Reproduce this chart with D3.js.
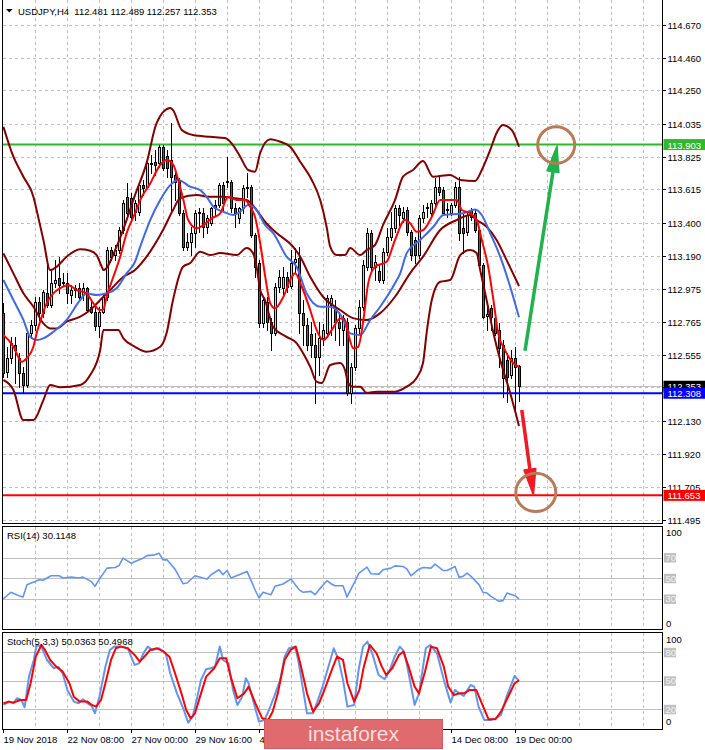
<!DOCTYPE html>
<html><head><meta charset="utf-8">
<script src="https://cdn.jsdelivr.net/npm/d3@7"></script>
<style>
html,body{margin:0;padding:0;background:#fff;}
svg{display:block;}
text{font-family:"Liberation Sans",Arial,sans-serif;}
</style></head><body>
<svg id="c" width="705" height="750"></svg>
<script>
// ---------- DATA ----------
const symbolTitle = "USDJPY,H4  112.481 112.489 112.257 112.353";
const openP = [
112.822,112.444,112.534,112.617,112.534,112.437,112.361,112.694,112.745,112.893,
112.822,112.950,112.874,113.015,113.047,113.015,113.015,112.938,112.970,112.983,
112.938,112.983,112.861,112.829,112.739,112.829,112.925,113.227,113.194,113.227,
113.355,113.566,113.560,113.470,113.470,113.643,113.631,113.785,113.791,113.785,
113.887,113.830,113.804,113.708,113.676,113.464,113.246,113.278,113.336,113.464,
113.464,113.374,113.400,113.515,113.515,113.643,113.663,113.663,113.496,113.432,
113.496,113.624,113.631,113.323,113.143,112.758,112.893,112.765,112.694,112.989,
112.983,113.053,112.995,113.150,113.175,112.823,112.745,112.688,112.617,112.540,
112.662,112.694,112.874,112.861,112.765,112.714,112.765,112.309,112.476,112.726,
112.861,113.117,113.336,113.117,113.092,113.034,113.214,113.310,113.368,113.496,
113.432,113.483,113.342,113.291,113.194,113.432,113.496,113.464,113.528,113.631,
113.611,113.483,113.464,113.515,113.631,113.368,113.342,113.483,113.464,113.355,
113.130,112.803,112.855,112.790,112.714,112.617,112.521,112.425,112.534,112.481];
const highP = [
112.886,112.604,112.668,112.668,112.566,112.476,112.714,112.778,112.925,112.925,
112.970,113.143,113.098,113.162,113.181,113.079,113.079,113.002,113.002,113.015,
113.015,112.989,112.906,112.861,112.861,112.951,113.246,113.246,113.259,113.374,
113.547,113.656,113.592,113.547,113.656,113.676,113.804,113.836,113.868,113.900,
113.900,113.868,114.041,113.727,113.688,113.483,113.336,113.374,113.483,113.496,
113.496,113.451,113.502,113.547,113.656,113.663,113.823,113.676,113.528,113.502,
113.643,113.720,113.643,113.336,113.162,112.925,112.925,112.790,113.015,113.098,
113.117,113.085,113.227,113.239,113.246,112.906,112.790,112.765,112.694,112.765,
112.752,112.938,112.938,112.906,112.829,112.810,112.790,112.502,112.745,112.906,
113.162,113.368,113.355,113.194,113.130,113.239,113.368,113.470,113.515,113.515,
113.502,113.502,113.355,113.310,113.451,113.515,113.528,113.547,113.688,113.695,
113.631,113.528,113.528,113.663,113.695,113.464,113.470,113.496,113.483,113.374,
113.143,112.861,112.874,112.810,112.758,112.649,112.566,112.585,112.604,112.489];
const lowP = [
112.412,112.412,112.502,112.374,112.348,112.310,112.348,112.662,112.714,112.778,
112.797,112.861,112.861,112.989,112.951,113.002,112.886,112.886,112.925,112.906,
112.906,112.829,112.822,112.714,112.668,112.822,112.906,113.162,113.162,113.207,
113.336,113.438,113.419,113.419,113.451,113.579,113.624,113.720,113.708,113.759,
113.740,113.695,113.464,113.547,113.451,113.227,113.227,113.194,113.246,113.342,
113.310,113.336,113.387,113.451,113.502,113.483,113.631,113.471,113.374,113.400,
113.464,113.566,113.310,113.053,112.733,112.733,112.714,112.585,112.680,112.957,
112.938,112.957,112.980,113.085,112.694,112.617,112.585,112.540,112.245,112.425,
112.617,112.668,112.681,112.649,112.617,112.617,112.297,112.245,112.457,112.694,
112.842,113.098,113.098,113.034,113.021,113.015,113.194,113.291,113.342,113.387,
113.406,113.323,113.162,113.143,113.175,113.406,113.438,113.451,113.515,113.579,
113.451,113.438,113.451,113.502,113.291,113.207,113.323,113.419,113.342,113.117,
112.790,112.714,112.714,112.681,112.476,112.284,112.252,112.406,112.200,112.257];
const closeP = [
112.437,112.534,112.630,112.585,112.437,112.361,112.694,112.745,112.893,112.822,
112.957,112.874,113.015,113.034,113.002,113.021,112.951,112.970,112.983,112.925,
112.983,112.842,112.829,112.739,112.829,112.925,113.227,113.182,113.227,113.355,
113.528,113.464,113.438,113.528,113.643,113.624,113.785,113.778,113.772,113.887,
113.752,113.752,113.695,113.663,113.464,113.246,113.278,113.336,113.464,113.470,
113.374,113.432,113.496,113.496,113.643,113.528,113.669,113.496,113.464,113.496,
113.624,113.631,113.323,113.117,112.758,112.906,112.765,112.694,112.989,113.053,
113.053,112.989,113.143,113.169,112.823,112.745,112.617,112.617,112.540,112.662,
112.714,112.919,112.919,112.765,112.726,112.790,112.309,112.476,112.726,112.861,
113.130,113.336,113.117,113.150,113.034,113.214,113.310,113.368,113.496,113.451,
113.470,113.342,113.194,113.194,113.432,113.470,113.502,113.528,113.631,113.599,
113.464,113.489,113.515,113.631,113.336,113.336,113.451,113.438,113.355,113.130,
112.797,112.816,112.797,112.694,112.598,112.406,112.412,112.534,112.476,112.353];

// Bollinger bands & moving averages as read: [bar, price]
const bbUpper = [[0.1,114.017],[2.6,113.825],[5.1,113.697],[7.6,113.568],[8.4,113.483],[10.1,113.291],[11.8,113.098],[13.4,113.119],[15.9,113.184],[19.3,113.231],[21.8,113.222],[23.4,113.194],[24.7,113.119],[25.1,113.098],[28.4,113.248],[30.9,113.419],[33.0,113.579],[35.9,113.784],[38.4,114.041],[41.8,114.137],[42.5,114.124],[44.7,113.996],[47.5,113.964],[51.8,113.953],[55.5,113.945],[57.5,113.900],[59.3,113.825],[61.3,113.740],[63.0,113.729],[64.3,113.849],[66.8,113.937],[69.3,113.921],[71.8,113.889],[74.3,113.793],[77.2,113.676],[79.3,113.547],[80.9,113.376],[81.8,113.248],[83.4,113.194],[85.5,113.194],[86.8,113.239],[89.3,113.194],[90.9,113.227],[93.0,113.259],[95.0,113.387],[98.0,113.547],[100.0,113.697],[102.5,113.740],[105.0,113.797],[107.5,113.697],[111.8,113.708],[114.3,113.676],[118.0,113.669],[119.7,113.740],[121.8,113.868],[123.4,113.977],[125.0,114.028],[127.2,113.996],[129.0,113.889]];
const bbMiddle = [[0.1,113.205],[2.6,113.077],[5.1,112.949],[7.6,112.863],[10.1,112.756],[11.8,112.724],[13.4,112.724],[15.9,112.767],[19.3,112.799],[21.8,112.842],[24.3,112.906],[26.8,112.970],[30.1,113.055],[33.0,113.098],[35.9,113.184],[40.0,113.355],[42.5,113.483],[44.3,113.560],[48.4,113.579],[51.8,113.568],[55.0,113.568],[57.5,113.560],[60.9,113.547],[63.4,113.483],[65.5,113.408],[68.4,113.336],[72.5,113.248],[74.3,113.184],[76.8,113.055],[80.0,112.927],[84.3,112.842],[87.5,112.790],[90.9,112.778],[94.3,112.822],[98.0,112.927],[101.8,113.079],[105.0,113.184],[109.3,113.355],[113.4,113.419],[116.8,113.451],[118.4,113.419],[120.9,113.376],[123.4,113.291],[125.9,113.162],[129.0,112.996]];
const bbLower = [[0.1,112.393],[2.6,112.329],[5.1,112.136],[7.6,112.136],[10.1,112.264],[11.8,112.361],[14.3,112.346],[19.3,112.361],[21.8,112.425],[24.3,112.585],[25.1,112.714],[28.8,112.714],[30.1,112.660],[33.0,112.606],[35.9,112.574],[39.3,112.606],[40.9,112.694],[42.5,112.906],[45.0,113.119],[46.8,113.143],[49.3,113.216],[51.8,113.194],[54.3,113.207],[58.4,113.194],[60.9,113.239],[62.5,113.207],[63.4,113.119],[64.3,112.970],[65.5,112.906],[67.5,112.735],[70.9,112.670],[73.4,112.630],[75.0,112.566],[76.8,112.478],[78.4,112.382],[79.7,112.373],[81.8,112.489],[84.3,112.502],[85.5,112.457],[86.3,112.373],[87.5,112.350],[89.3,112.350],[90.9,112.311],[93.4,112.318],[98.0,112.318],[100.9,112.350],[103.4,112.406],[105.0,112.502],[105.9,112.694],[107.2,112.906],[109.3,113.023],[111.8,113.034],[114.3,113.194],[116.8,113.227],[118.4,113.207],[119.3,113.098],[120.9,112.906],[122.6,112.694],[124.3,112.521],[126.8,112.309],[129.0,112.098]];
const maSlow = [[0.1,113.034],[2.6,112.906],[5.1,112.778],[6.8,112.670],[8.4,112.649],[10.1,112.660],[12.6,112.702],[15.9,112.778],[19.3,112.906],[20.9,112.949],[23.4,112.938],[25.9,112.949],[28.4,112.981],[30.9,113.077],[33.0,113.151],[34.3,113.248],[36.8,113.419],[39.3,113.547],[41.8,113.643],[43.8,113.676],[46.8,113.633],[49.3,113.611],[50.9,113.568],[52.6,113.504],[55.1,113.472],[57.6,113.451],[59.3,113.472],[61.3,113.515],[63.4,113.483],[65.5,113.387],[67.6,113.334],[70.9,113.184],[73.4,113.119],[75.9,112.949],[79.3,112.863],[81.8,112.863],[84.7,112.799],[86.8,112.692],[89.3,112.681],[91.8,112.778],[94.3,112.863],[98.0,113.013],[99.3,113.077],[100.9,113.205],[104.3,113.291],[107.6,113.376],[110.1,113.451],[115.1,113.462],[118.0,113.487],[119.7,113.451],[121.8,113.334],[124.3,113.184],[126.8,112.991],[129.0,112.795]];
const maFast = [[0.1,112.681],[2.6,112.606],[3.4,112.564],[4.7,112.510],[5.9,112.532],[7.6,112.606],[8.4,112.692],[9.7,112.799],[10.9,112.885],[12.6,112.949],[14.3,112.981],[16.3,113.002],[18.4,112.970],[20.9,112.949],[22.6,112.885],[24.3,112.842],[25.1,112.846],[25.9,112.927],[27.6,113.055],[29.3,113.184],[30.9,113.334],[33.0,113.462],[34.3,113.547],[36.8,113.654],[39.3,113.772],[40.9,113.804],[42.6,113.772],[43.8,113.676],[45.1,113.547],[46.3,113.419],[48.4,113.366],[50.1,113.387],[52.2,113.430],[54.3,113.462],[56.3,113.568],[58.4,113.547],[60.5,113.547],[61.8,113.504],[63.0,113.440],[64.3,113.270],[65.5,113.066],[66.8,112.885],[68.0,112.853],[70.1,112.927],[72.2,113.055],[73.0,113.077],[74.7,112.991],[76.8,112.842],[78.4,112.714],[80.1,112.649],[82.2,112.714],[84.3,112.788],[85.5,112.778],[86.3,112.692],[87.6,112.596],[88.8,112.606],[90.1,112.778],[91.3,113.013],[93.0,113.119],[95.9,113.151],[98.0,113.291],[100.5,113.419],[101.8,113.398],[103.4,113.344],[105.1,113.355],[107.2,113.440],[109.3,113.547],[113.4,113.547],[114.7,113.483],[116.8,113.462],[118.4,113.419],[119.7,113.291],[121.3,113.119],[122.6,112.906],[123.8,112.692],[125.5,112.585],[127.6,112.500],[129.0,112.478]];

const rsiLine = [[0,30.0],[2,36.4],[4,33.2],[5,31.9],[6,43.8],[8,46.9],[9,48.6],[10,48.0],[12,52.4],[14,52.4],[15,50.2],[17,51.1],[19,50.2],[20,51.1],[22,47.0],[23,42.2],[24,48.6],[26,59.8],[28,60.4],[29,62.3],[30,69.4],[32,64.6],[33,66.2],[35,69.4],[36,71.9],[38,72.6],[39,74.2],[40,67.8],[41,67.8],[43,58.8],[44,51.8],[45,44.7],[46,45.4],[48,52.4],[50,50.2],[51,49.2],[52,53.4],[54,58.2],[55,53.4],[56,57.5],[57,50.2],[59,53.4],[61,56.6],[62,47.9],[63,38.9],[64,30.9],[65,36.4],[67,34.1],[68,42.2],[70,44.4],[71,46.9],[72,49.2],[74,39.0],[75,36.4],[77,37.3],[78,34.1],[79,39.0],[81,47.6],[82,44.7],[83,42.8],[85,42.8],[86,31.9],[88,46.9],[89,55.0],[91,60.7],[92,54.3],[94,54.0],[95,58.2],[97,59.8],[98,62.0],[100,61.4],[101,58.8],[102,52.4],[104,58.8],[105,60.4],[107,59.8],[108,63.6],[110,57.5],[111,57.5],[113,61.4],[114,51.1],[115,51.8],[116,55.0],[117,51.8],[119,43.8],[120,36.4],[121,35.7],[122,32.5],[124,27.7],[125,28.4],[126,35.7],[128,33.2],[129,30.1]];
const stochK = [[0.1,24.6],[1.5,28.1],[2.6,26.3],[3.5,31.6],[4.6,29.8],[5.4,22.1],[6.5,54.4],[7.7,71.9],[8.4,87.7],[9.6,86.0],[11.0,71.9],[12.7,63.2],[13.8,64.9],[14.9,57.9],[16.1,40.4],[17.7,28.1],[18.9,26.3],[20.0,30.5],[21.1,26.3],[22.2,23.5],[23.0,15.8],[24.1,33.3],[25.6,64.9],[26.7,82.5],[27.8,86.0],[29.5,86.0],[31.2,84.2],[32.9,66.7],[34.0,68.4],[35.1,78.9],[36.2,86.0],[37.3,82.5],[39.0,84.2],[40.7,78.9],[41.8,57.9],[43.5,36.8],[45.2,19.3],[46.3,6.0],[47.4,12.3],[48.6,33.3],[49.5,51.0],[50.8,62.1],[51.9,63.2],[53.0,64.9],[54.2,86.0],[55.0,71.9],[56.4,68.4],[57.5,40.4],[58.6,24.6],[59.8,33.3],[60.7,52.6],[61.4,47.4],[62.6,28.1],[64.0,7.0],[65.4,8.8],[66.5,19.3],[67.8,33.3],[69.3,51.0],[70.4,75.4],[71.5,84.2],[73.0,86.0],[73.8,71.9],[74.9,43.9],[76.0,15.8],[77.5,15.8],[78.6,28.1],[79.9,43.9],[81.6,68.4],[82.7,84.2],[83.9,71.9],[85.0,51.0],[86.1,22.8],[87.8,24.6],[88.9,61.4],[90.0,86.0],[91.1,91.2],[92.3,78.9],[93.9,56.1],[95.4,51.6],[96.7,61.4],[97.9,75.4],[99.2,86.0],[100.3,80.7],[101.4,57.9],[102.9,24.6],[104.0,36.8],[105.7,84.2],[106.8,87.7],[108.5,78.9],[110.2,51.0],[111.9,27.0],[113.0,40.4],[114.1,36.8],[115.2,34.0],[116.9,45.6],[117.8,43.9],[118.9,22.8],[120.3,8.8],[121.9,8.8],[123.1,10.5],[124.5,14.0],[125.9,33.3],[127.9,55.1],[129.0,50.0]];
const stochD = [[0.1,26.3],[1.5,28.1],[2.6,27.0],[4.3,29.8],[5.8,29.8],[6.9,47.4],[8.2,75.4],[9.6,87.7],[10.5,82.5],[11.8,71.9],[13.3,64.9],[14.9,59.7],[16.6,47.4],[17.7,33.3],[19.2,28.1],[21.1,28.1],[22.2,24.6],[23.3,22.8],[24.5,29.8],[25.6,47.4],[27.0,71.9],[28.2,84.2],[29.5,86.0],[31.2,84.2],[32.9,77.2],[34.2,70.2],[35.7,77.2],[36.8,82.5],[38.5,84.2],[40.2,80.7],[41.6,75.4],[43.0,57.9],[44.6,36.8],[45.8,19.3],[46.9,10.5],[48.0,15.8],[49.5,36.8],[50.8,54.4],[52.8,63.2],[54.2,73.7],[55.8,73.7],[56.9,54.4],[58.6,31.6],[60.3,36.8],[61.4,43.9],[63.1,26.3],[64.8,10.5],[66.3,8.8],[67.4,17.5],[68.7,36.8],[70.4,71.9],[71.9,82.5],[73.2,86.0],[74.3,68.4],[76.0,36.8],[77.5,17.5],[79.0,26.3],[80.5,42.1],[82.2,61.4],[83.5,75.4],[85.0,71.9],[86.1,47.4],[87.8,28.1],[89.1,40.4],[90.2,64.9],[91.7,87.7],[93.4,78.9],[94.7,64.9],[95.8,56.1],[97.3,63.2],[99.0,77.2],[100.1,80.7],[101.4,64.9],[102.9,43.9],[104.0,36.8],[105.5,59.7],[107.0,86.0],[108.5,84.2],[110.2,64.9],[111.3,43.9],[112.7,35.1],[114.1,36.8],[115.2,36.8],[116.7,40.4],[118.3,40.4],[119.7,26.3],[121.4,9.5],[123.1,9.5],[124.5,17.5],[126.1,31.6],[127.9,47.4],[129.0,50.5]];

const priceTicks = [114.670,114.460,114.250,114.035,113.825,113.615,113.400,113.190,112.975,112.765,112.555,112.345,112.130,111.920,111.705,111.495];
const timeLabels = ["19 Nov 2018","22 Nov 08:00","27 Nov 00:00","29 Nov 16:00","4 Dec 08:00","7 Dec 00:00","11 Dec 16:00","14 Dec 08:00","19 Dec 00:00"];
const timeLabelBars = [0,16,32,48,64,80,96,112,128];
const levelPrices = [113.903, 112.308, 111.653];
const lastPrice = 112.353;
const rsiLevels = [70,50,30];
const stochLevels = [80,50,20];
const rsiTitle = "RSI(14) 30.1148";
const stochTitle = "Stoch(5,3,3) 50.0363 50.4968";
const upArrow = [[130.5,112.580],[138.5,113.894]];
const downArrow = [[129.7,112.200],[132.6,111.655]];
const targetUp = [138.3,113.900];
const targetDown = [133.2,111.672];

// ---------- DRAW ----------
const svg = d3.select('#c');
const xs = d3.scaleLinear().domain([0,129]).range([3,519]);
const y = d3.scaleLinear().domain([111.495,114.670]).range([520,25]);
const ry = d3.scaleLinear().domain([0,100]).range([630,526.5]);
const sy = d3.scaleLinear().domain([0,100]).range([728.3,633.3]);
const R = 662.5, GRID = '#c0c0c0';
const FS = '9.5px';
const WM = {x0:264.5, x1:442.5}; // watermark span

const defs = svg.append('defs');
function clip(id, x0, y0, w, h){ defs.append('clipPath').attr('id',id).append('rect').attr('x',x0).attr('y',y0).attr('width',w).attr('height',h); }
clip('cm',3,0,659.5,523.5); clip('cr',3,527,659.5,102.5); clip('cs',3,633,659.5,96.5);
clip('cx',0,730,WM.x0,20);

const gridBars = d3.range(8,161,8);
function vgrid(g, y0, y1){
  g.selectAll('line.vg').data(gridBars).join('line').attr('class','vg')
   .attr('x1',d=>Math.round(xs(d))+0.5).attr('x2',d=>Math.round(xs(d))+0.5)
   .attr('y1',y0).attr('y2',y1).attr('stroke',GRID).attr('stroke-dasharray','3,3').attr('shape-rendering','crispEdges');
}

// main panel
const gm = svg.append('g').attr('clip-path','url(#cm)');
vgrid(gm,0,523);
gm.selectAll('line.hg').data(priceTicks).join('line')
  .attr('x1',3).attr('x2',R).attr('y1',d=>Math.round(y(d))+0.5).attr('y2',d=>Math.round(y(d))+0.5)
  .attr('stroke',GRID).attr('stroke-dasharray','3,3').attr('shape-rendering','crispEdges');
gm.append('line').attr('x1',3).attr('x2',R).attr('y1',Math.round(y(lastPrice))+0.5).attr('y2',Math.round(y(lastPrice))+0.5)
  .attr('stroke','#c0c0c0').attr('shape-rendering','crispEdges');
const levelColors = ['#2db82d','#0000ff','#ff0000'];
gm.selectAll('line.lv').data(levelPrices).join('line')
  .attr('x1',3).attr('x2',R).attr('y1',d=>y(d)).attr('y2',d=>y(d))
  .attr('stroke',(d,i)=>levelColors[i]).attr('stroke-width',2);

// candles
const bars = d3.range(openP.length);
const cg = gm.append('g').attr('shape-rendering','crispEdges');
cg.selectAll('line.w').data(bars).join('line')
  .attr('x1',i=>Math.round(xs(i))+0.5).attr('x2',i=>Math.round(xs(i))+0.5)
  .attr('y1',i=>Math.round(y(highP[i]))).attr('y2',i=>Math.round(y(lowP[i]))+1)
  .attr('stroke','#000');
bars.forEach(i=>{
  const cx = Math.round(xs(i));
  const t = Math.round(y(Math.max(openP[i],closeP[i])));
  const b = Math.round(y(Math.min(openP[i],closeP[i])));
  const h = Math.max(1,b-t+1);
  cg.append('rect').attr('x',cx-1).attr('y',t).attr('width',3).attr('height',h).attr('fill','#000');
  if(h>2){
    cg.append('rect').attr('x',cx).attr('y',t+1).attr('width',1).attr('height',h-2)
      .attr('fill', closeP[i]>openP[i] ? '#adff2f' : '#ff1a1a');
  }
});

// indicator lines
const ln = d3.line().x(d=>xs(d[0])).y(d=>y(d[1])).curve(d3.curveMonotoneX);
[[bbUpper,'#800000'],[bbMiddle,'#800000'],[bbLower,'#800000'],[maSlow,'#4169e1'],[maFast,'#ff0000']].forEach(([d,c])=>{
  gm.append('path').attr('d',ln(d)).attr('fill','none').attr('stroke',c).attr('stroke-width',2);
});

// annotations
const ann = gm.append('g');
function arrow(pts, color){
  const x0=xs(pts[0][0]), y0=y(pts[0][1]), x1=xs(pts[1][0]), y1=y(pts[1][1]);
  const a=Math.atan2(y1-y0,x1-x0), L=26, hw=6;
  const bx=x1-L*Math.cos(a), by=y1-L*Math.sin(a);
  ann.append('line').attr('x1',x0).attr('y1',y0).attr('x2',bx+6*Math.cos(a)).attr('y2',by+6*Math.sin(a))
    .attr('stroke',color).attr('stroke-width',3.5);
  ann.append('path').attr('d',`M${x1},${y1}L${bx-hw*Math.sin(a)},${by+hw*Math.cos(a)}L${bx+hw*Math.sin(a)},${by-hw*Math.cos(a)}Z`)
    .attr('fill',color).attr('stroke',color).attr('stroke-width',1.5).attr('stroke-linejoin','round');
}
arrow(upArrow,'#22b14c');
arrow(downArrow,'#ed1c24');
ann.append('ellipse').attr('cx',xs(targetUp[0])).attr('cy',y(targetUp[1])).attr('rx',18.5).attr('ry',18.3)
  .attr('fill','none').attr('stroke','#b97a57').attr('stroke-width',3);
ann.append('ellipse').attr('cx',xs(targetDown[0])).attr('cy',y(targetDown[1])).attr('rx',20).attr('ry',19.2)
  .attr('fill','none').attr('stroke','#b97a57').attr('stroke-width',3);

// main frame
svg.append('path').attr('d',`M2.5,0V523.5H${R}V0`).attr('fill','none').attr('stroke','#000').attr('shape-rendering','crispEdges');

// header
svg.append('path').attr('d','M6,9L12.5,9L9.25,12.5Z').attr('fill','#000');
svg.append('text').attr('x',18).attr('y',15).attr('font-size',FS).attr('fill','#000').attr('xml:space','preserve').text(symbolTitle);

// right price axis
const ax = svg.append('g');
ax.selectAll('line.t').data(priceTicks).join('line')
  .attr('x1',R).attr('x2',666).attr('y1',d=>Math.round(y(d))+0.5).attr('y2',d=>Math.round(y(d))+0.5)
  .attr('stroke','#000').attr('shape-rendering','crispEdges');
// tick labels (the one hidden behind the current-price box is not shown)
ax.selectAll('text.t').data(priceTicks.filter(p=>Math.abs(y(p)-y(lastPrice))>8)).join('text')
  .attr('x',667.5).attr('y',d=>y(d)+4).attr('font-size',FS).attr('fill','#000').text(d=>d.toFixed(3));
function priceBox(p, fill){
  ax.append('rect').attr('x',663.5).attr('y',y(p)-5.5).attr('width',41.5).attr('height',11).attr('fill',fill);
  ax.append('text').attr('x',667.5).attr('y',y(p)+4).attr('font-size',FS).attr('fill','#fff').text(p.toFixed(3));
}
priceBox(lastPrice,'#000');
priceBox(levelPrices[0],'#2db82d');
priceBox(levelPrices[1],'#0000ff');
priceBox(levelPrices[2],'#ff0000');

// sub panels
function subPanel(clipId, top, bottom, scale, levels, series, title, titleY){
  const g = svg.append('g').attr('clip-path',`url(#${clipId})`);
  vgrid(g, top, bottom);
  g.selectAll('line.lvl').data(levels).join('line')
    .attr('x1',3).attr('x2',R).attr('y1',d=>Math.round(scale(d))+0.5).attr('y2',d=>Math.round(scale(d))+0.5)
    .attr('stroke','#c0c0c0').attr('shape-rendering','crispEdges');
  const l = d3.line().x(d=>xs(d[0])).y(d=>scale(d[1]));
  series.forEach(([d,c,w])=>g.append('path').attr('d',l(d)).attr('fill','none').attr('stroke',c).attr('stroke-width',w).attr('stroke-linejoin','round'));
  svg.append('rect').attr('x',2.5).attr('y',top).attr('width',R-2.5).attr('height',bottom-top)
    .attr('fill','none').attr('stroke','#000').attr('shape-rendering','crispEdges');
  svg.append('text').attr('x',7).attr('y',titleY).attr('font-size',FS).attr('fill','#000').text(title);
  const lg = svg.append('g');
  lg.append('text').attr('x',666).attr('y',scale(100)+9.5).attr('font-size',FS).attr('fill','#000').text('100');
  lg.append('text').attr('x',666).attr('y',scale(0)-3).attr('font-size',FS).attr('fill','#000').text('0');
  levels.forEach(v=>{
    lg.append('rect').attr('x',664).attr('y',scale(v)-4.5).attr('width',12).attr('height',9.5).attr('fill','#c0c0c0');
    lg.append('text').attr('x',665.5).attr('y',scale(v)+3.5).attr('font-size',FS).attr('fill','#f2f2f2').text(v);
  });
}
subPanel('cr',526.5,629.5,ry,rsiLevels,[[rsiLine,'#6495ed',1.6]],rsiTitle,538.5);
subPanel('cs',632.5,729.5,sy,stochLevels,[[stochK,'#6495ed',2],[stochD,'#ff0000',2]],stochTitle,645);

// time axis
svg.selectAll('line.xt').data(timeLabelBars).join('line')
  .attr('x1',d=>Math.round(xs(d))+0.5).attr('x2',d=>Math.round(xs(d))+0.5).attr('y1',729.5).attr('y2',733)
  .attr('stroke','#000').attr('shape-rendering','crispEdges');
// labels fully hidden by the watermark are not drawn; the partly hidden one is clipped
const lblIdx = d3.range(timeLabels.length).filter(i=>{
  const sx = xs(timeLabelBars[i]); return !(sx > WM.x0 && sx < WM.x1);
});
lblIdx.forEach(i=>{
  const sx = xs(timeLabelBars[i]);
  const t = svg.append('text').attr('x',sx+0.5).attr('y',742.5).attr('font-size',FS).attr('fill','#000');
  if(sx < WM.x0 && sx + 60 > WM.x0){ t.attr('clip-path','url(#cx)').text(timeLabels[i].split(' ')[0]); }
  else t.text(timeLabels[i]);
});

// watermark
svg.append('rect').attr('x',WM.x0).attr('y',719.5).attr('width',WM.x1-WM.x0).attr('height',29).attr('fill','#e06b6f').attr('stroke','#d35a5e');
svg.append('text').attr('x',(WM.x0+WM.x1)/2).attr('y',740.5).attr('text-anchor','middle').attr('font-size','21px')
  .attr('fill','#f8dede').text('instaforex');
</script>
</body></html>
